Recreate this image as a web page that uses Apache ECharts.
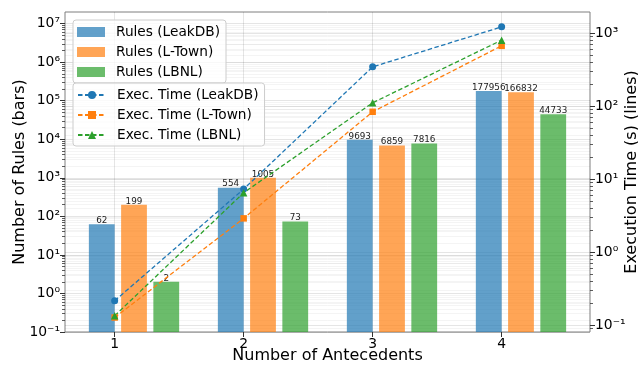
<!DOCTYPE html>
<html><head><meta charset="utf-8">
<script src="https://cdn.jsdelivr.net/npm/echarts@6/dist/echarts.min.js"></script>
<style>html,body{margin:0;padding:0;background:#fff}#c{width:638px;height:365px}</style>
</head><body><div id="c"></div>
<script>
// ---- data ----
const categories = [1, 2, 3, 4];
const rulesLeakDB = [62, 554, 9693, 177956];
const rulesLTown = [199, 1005, 6859, 166832];
const rulesLBNL = [2, 73, 7816, 44733];
const timeLeakDB = [0.217, 7.36, 348, 1230];
const timeLTown = [0.128, 2.92, 84.3, 676];
const timeLBNL = [0.135, 6.55, 112, 809];
const leftTicks = [0.1, 1, 10, 100, 1e3, 1e4, 1e5, 1e6, 1e7];
const rightTicks = [0.1, 1, 10, 100, 1000];

// ---- layout / style ----
const FONT = 'DejaVu Sans';
const AX = '#333';
const L_MIN = 0.1, L_MAX = 2e7;
const R_MIN = 0.081, R_MAX = 1965;
const BAR_W = 0.2;
const SUP = {'-':'\u207B','0':'\u2070','1':'\u00B9','2':'\u00B2','3':'\u00B3','4':'\u2074','5':'\u2075','6':'\u2076','7':'\u2077','8':'\u2078','9':'\u2079'};
function pow10Label(v){
  const e = Math.round(Math.log10(v));
  return '10' + String(e).split('').map(ch => SUP[ch]).join('');
}
function minorTicks(lo, hi){
  const out = [];
  for (let e = Math.floor(Math.log10(lo)) - 1; e <= Math.ceil(Math.log10(hi)); e++){
    for (let k = 2; k <= 9; k++){
      const v = k * Math.pow(10, e);
      if (v > lo && v < hi) out.push(v);
    }
  }
  return out;
}
const GRID_MAJOR = {color:'rgba(0,0,0,0.13)', width:0.8};
const GRID_MINOR = {color:'rgba(0,0,0,0.08)', width:0.6};

function barSeries(name, values, offset, color){
  return {
    type:'custom', name, xAxisIndex:0, yAxisIndex:0, z:2,
    itemStyle:{color},
    encode:{x:0, y:1},
    data: categories.map((c,i)=>[c + offset, values[i]]),
    renderItem(params, api){
      const x = api.value(0), v = api.value(1);
      const top = api.coord([x, v]);
      const base = api.coord([x, L_MIN]);
      const l = api.coord([x - BAR_W/2, v])[0];
      const r = api.coord([x + BAR_W/2, v])[0];
      return {type:'group', children:[
        {type:'rect', shape:{x:l, y:top[1], width:r-l, height:base[1]-top[1]}, style:{fill:color}},
        {type:'text', style:{text:String(v), x:top[0], y:top[1]+1, align:'center', verticalAlign:'bottom', fill:'#222', fontSize:8.8, fontFamily:FONT}}
      ]};
    }
  };
}
function lineSeries(name, values, color, symbol, size){
  return {
    type:'line', name, xAxisIndex:0, yAxisIndex:1, z:5,
    data: categories.map((c,i)=>[c, values[i]]),
    symbol, symbolSize:size, showSymbol:true,
    lineStyle:{color, width:1.3, type:[4.5,2.5]},
    itemStyle:{color}
  };
}

const chart = echarts.init(document.getElementById('c'), null, {renderer:'canvas'});
const legendCommon = {
  orient:'vertical', left:73, itemWidth:28, itemHeight:10, itemGap:6,
  backgroundColor:'rgba(255,255,255,0.8)', borderColor:'#cccccc', borderWidth:1, borderRadius:3,
  textStyle:{fontFamily:FONT, fontSize:13.7, color:'#000', lineHeight:14, padding:[0,0,0,6]}
};
chart.setOption({
  animation:false,
  textStyle:{fontFamily:FONT},
  grid:{left:65, right:48, top:12, bottom:33, containLabel:false, outerBoundsMode:'none', show:true, borderColor:'#7f7f7f', borderWidth:1, backgroundColor:'transparent'},
  legend:[
    Object.assign({}, legendCommon, {top:20, padding:[5,6,4,4],
      data:[{name:'Rules (LeakDB)', icon:'rect'},{name:'Rules (L-Town)', icon:'rect'},{name:'Rules (LBNL)', icon:'rect'}]}),
    Object.assign({}, legendCommon, {top:83, padding:[5,6,4,4],
      data:['Exec. Time (LeakDB)','Exec. Time (L-Town)','Exec. Time (LBNL)']})
  ],
  xAxis:[{
    type:'value', min:0.615, max:4.685,
    axisLine:{show:false},
    axisTick:{show:true, customValues:categories, length:5, lineStyle:{color:AX}},
    axisLabel:{customValues:categories, margin:5, fontSize:13.9, color:'#000', fontFamily:FONT},
    splitLine:{show:true, lineStyle:GRID_MAJOR},
    name:'Number of Antecedents', nameLocation:'middle', nameGap:16, nameMoveOverlap:false,
    nameTextStyle:{fontSize:16, color:'#000', fontFamily:FONT}
  }],
  yAxis:[
    {type:'log', logBase:10, min:L_MIN, max:L_MAX, position:'left',
     axisLine:{show:false},
     axisTick:{show:true, customValues:leftTicks, length:5, lineStyle:{color:AX}},
     axisLabel:{customValues:leftTicks, margin:5, fontSize:13.9, color:'#000', fontFamily:FONT, formatter:pow10Label},
     splitLine:{show:true, lineStyle:GRID_MAJOR},
     name:'Number of Rules (bars)', nameLocation:'middle', nameGap:37, nameRotate:90, nameMoveOverlap:false,
     nameTextStyle:{fontSize:16, color:'#000', fontFamily:FONT}},
    {type:'log', logBase:10, min:R_MIN, max:R_MAX, position:'right',
     axisLine:{show:false},
     axisTick:{show:true, customValues:rightTicks, length:5, lineStyle:{color:AX}},
     axisLabel:{customValues:rightTicks, margin:5, fontSize:13.9, color:'#000', fontFamily:FONT, formatter:pow10Label},
     splitLine:{show:true, lineStyle:GRID_MAJOR},
     name:'Execution Time (s) (lines)', nameLocation:'middle', nameGap:34, nameRotate:90, nameMoveOverlap:false,
     nameTextStyle:{fontSize:16, color:'#000', fontFamily:FONT}},
    {type:'log', logBase:10, min:L_MIN, max:L_MAX, position:'left',
     axisLine:{show:false}, axisLabel:{show:false},
     axisTick:{show:true, customValues:minorTicks(L_MIN, L_MAX), length:3, lineStyle:{color:AX, width:0.8}},
     splitLine:{show:true, lineStyle:GRID_MINOR}},
    {type:'log', logBase:10, min:R_MIN, max:R_MAX, position:'right',
     axisLine:{show:false}, axisLabel:{show:false},
     axisTick:{show:true, customValues:minorTicks(R_MIN, R_MAX), length:3, lineStyle:{color:AX, width:0.8}},
     splitLine:{show:true, lineStyle:GRID_MINOR}}
  ],
  series:[
    barSeries('Rules (LeakDB)', rulesLeakDB, -0.1, 'rgba(31,119,180,0.7)'),
    barSeries('Rules (L-Town)', rulesLTown, 0.15, 'rgba(255,127,14,0.7)'),
    barSeries('Rules (LBNL)', rulesLBNL, 0.4, 'rgba(44,160,44,0.7)'),
    lineSeries('Exec. Time (LeakDB)', timeLeakDB, '#1f77b4', 'circle', 7),
    lineSeries('Exec. Time (L-Town)', timeLTown, '#ff7f0e', 'rect', 6.5),
    lineSeries('Exec. Time (LBNL)', timeLBNL, '#2ca02c', 'triangle', 7.5)
  ]
});
</script></body></html>
